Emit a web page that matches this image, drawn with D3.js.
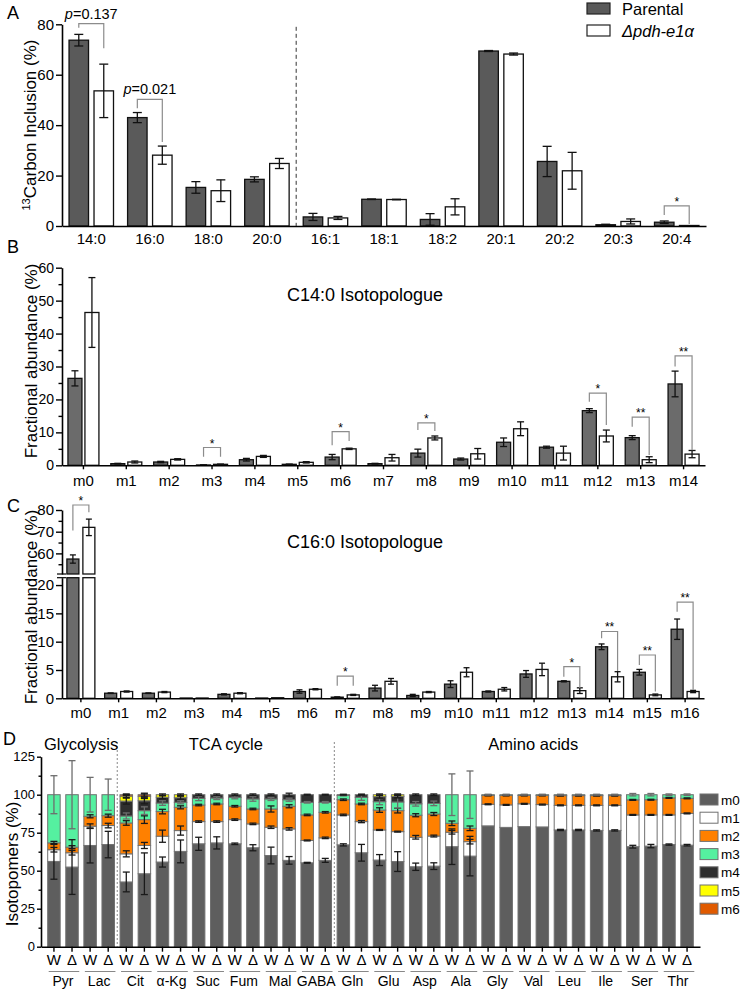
<!DOCTYPE html>
<html>
<head>
<meta charset="utf-8">
<script src="https://cdn.jsdelivr.net/npm/d3@7"></script>
<style>
  body { margin: 0; background: #fff; }
  svg { display: block; }
</style>
</head>
<body>
<div id="chart"></div>
<script>
// ---- Panel A: 13C inclusion per fatty acid ----
const aCats = ['14:0', '16:0', '18:0', '20:0', '16:1', '18:1', '18:2', '20:1', '20:2', '20:3', '20:4'];
const aParental = [73.7, 43.0, 15.3, 18.5, 3.6, 10.6, 2.6, 69.4, 25.6, 0.5, 1.5];
const aParentalSd = [2.3, 2.0, 2.3, 1.0, 1.4, 0.1, 2.3, 0.2, 6.0, 0.2, 0.5];
const aMutant = [53.6, 28.1, 14.0, 24.8, 3.2, 10.5, 7.6, 68.2, 21.9, 1.8, 0.2];
const aMutantSd = [10.6, 3.6, 4.3, 2.0, 0.6, 0.1, 3.2, 0.4, 7.3, 1.0, 0];
const aBrackets = [
  { cat: '14:0', label: 'p=0.137', level: 80.3, left: 78.6, right: 70.5 },
  { cat: '16:0', label: 'p=0.021', level: 50.2, left: 46.7, right: 33.3 },
  { cat: '20:4', label: '*', level: 8.0, left: 4.4, right: 0.8 }
];

// ---- Panel B: C14:0 isotopologues ----
const bCats = d3.range(15).map(i => 'm' + i);
const bParental = [26.4, 0.5, 1.0, 0.1, 1.7, 0.3, 2.5, 0.5, 3.7, 1.9, 7.0, 5.5, 16.6, 8.4, 24.7];
const bParentalSd = [2.3, 0.1, 0.2, 0.05, 0.4, 0.05, 0.8, 0.1, 1.2, 0.3, 1.3, 0.3, 0.6, 0.6, 3.9];
const bMutant = [46.4, 1.0, 1.8, 0.3, 2.7, 0.9, 5.0, 2.3, 8.3, 3.5, 11.1, 3.7, 8.9, 1.7, 3.4];
const bMutantSd = [10.6, 0.3, 0.2, 0.05, 0.3, 0.2, 0.2, 1.0, 0.6, 1.6, 2.1, 2.1, 1.8, 0.9, 1.1];
const bBrackets = [
  { cat: 'm3', label: '*', level: 5.4, left: 2.6, right: 2.6 },
  { cat: 'm6', label: '*', level: 10.2, left: 6.1, right: 7.4 },
  { cat: 'm8', label: '*', level: 12.9, left: 10.7, right: 10.4 },
  { cat: 'm12', label: '*', level: 21.9, left: 19.3, right: 12.2 },
  { cat: 'm13', label: '**', level: 14.6, left: 11.7, right: 3.1 },
  { cat: 'm14', label: '**', level: 33.2, left: 30.0, right: 4.6 }
];

// ---- Panel C: C16:0 isotopologues (broken axis) ----
const cCats = d3.range(17).map(i => 'm' + i);
const cParental = [57.4, 0.9, 0.9, 0.05, 0.7, 0.05, 1.2, 0.2, 1.8, 0.5, 2.5, 1.2, 4.3, 3.0, 9.1, 4.6, 12.2];
const cParentalSd = [1.9, 0.05, 0.05, 0, 0.1, 0, 0.3, 0.05, 0.5, 0.2, 0.6, 0.1, 0.6, 0.1, 0.5, 0.5, 1.8];
const cMutant = [72.0, 1.2, 1.1, 0.05, 0.9, 0.1, 1.6, 0.6, 3.0, 1.1, 4.6, 1.6, 5.1, 1.35, 3.8, 0.6, 1.2];
const cMutantSd = [3.8, 0.1, 0.1, 0, 0.1, 0, 0.1, 0.1, 0.5, 0.1, 0.8, 0.3, 1.1, 0.5, 0.9, 0.15, 0.2];
const cBrackets = [
  { cat: 'm0', label: '*', level: 82.3, left: 70.6, right: 79.0 },
  { cat: 'm7', label: '*', level: 3.9, left: 2.2, right: 2.2 },
  { cat: 'm13', label: '*', level: 5.6, left: 3.8, right: 1.8 },
  { cat: 'm14', label: '**', level: 11.8, left: 10.6, right: 4.8 },
  { cat: 'm15', label: '**', level: 7.65, left: 5.9, right: 1.2 },
  { cat: 'm16', label: '**', level: 17.0, left: 15.3, right: 1.5 }
];

// ---- Panel D: isotopomer distribution of central metabolites ----
const metabolites = ['Pyr', 'Lac', 'Cit', 'α-Kg', 'Suc', 'Fum', 'Mal', 'GABA', 'Gln',
  'Glu', 'Asp', 'Ala', 'Gly', 'Val', 'Leu', 'Ile', 'Ser', 'Thr'];
const strains = ['W', 'Δ'];
const isoKeys = ['m0', 'm1', 'm2', 'm3', 'm4', 'm5', 'm6'];
const isoColors = ['#5e5e5e', '#ffffff', '#ff8000', '#55f0a0', '#2e2e2e', '#ffff00', '#e05a00'];
const sections = [
  { label: 'Glycolysis', from: 0, to: 3 },
  { label: 'TCA cycle', from: 4, to: 15 },
  { label: 'Amino acids', from: 18, to: 35 }
];
// one value per bar: Pyr W, Pyr Δ, Lac W, Lac Δ, ...
const m0 = [56.1, 52.4, 66.6, 67.2, 42.6, 48.0, 55.7, 62.7, 67.7, 68.3, 67.7, 65.1, 60.0, 56.8, 55.2, 56.8, 67.0, 61.8,
  57.0, 56.0, 52.6, 53.0, 65.8, 59.6, 79.5, 78.5, 79.0, 78.8, 76.8, 76.8, 76.5, 76.5, 65.8, 66.2, 67.2, 66.8];
const m1 = [7.7, 9.4, 12.7, 12.5, 18.5, 18.6, 17.0, 13.7, 14.6, 14.0, 15.9, 15.7, 18.6, 20.7, 14.7, 14.8, 19.7, 20.5,
  19.8, 19.7, 19.4, 19.8, 9.5, 9.5, 14.2, 14.8, 15.0, 14.7, 16.2, 16.2, 16.5, 16.5, 20.9, 20.5, 19.5, 20.9];
const m2 = [4.5, 3.7, 6.5, 6.5, 20.3, 17.0, 16.2, 15.3, 10.9, 11.6, 8.8, 9.8, 12.0, 14.9, 16.8, 16.8, 10.0, 11.6,
  13.1, 13.8, 14.5, 14.5, 5.9, 8.8, 5.8, 6.2, 5.5, 6.0, 6.4, 6.4, 6.4, 6.4, 9.9, 10.0, 11.2, 9.9];
const m3 = [31.7, 34.5, 14.2, 13.8, 4.6, 5.9, 5.6, 3.3, 4.4, 3.9, 5.9, 6.6, 6.6, 4.3, 8.3, 6.6, 2.8, 4.4,
  5.5, 5.7, 7.5, 7.0, 18.8, 22.1, 0.5, 0.5, 0.5, 0.5, 0.6, 0.6, 0.6, 0.6, 3.4, 3.3, 2.1, 2.4];
const m4 = [0, 0, 0, 0, 9.8, 6.5, 3.8, 3.0, 2.4, 2.2, 1.7, 2.8, 2.8, 3.3, 5.0, 5.0, 0.5, 1.7,
  3.3, 3.7, 6.0, 5.7, 0, 0, 0, 0, 0, 0, 0, 0, 0, 0, 0, 0, 0, 0];
const m5 = [0, 0, 0, 0, 3.3, 3.0, 1.7, 2.0, 0, 0, 0, 0, 0, 0, 0, 0, 0, 0,
  1.3, 1.1, 0, 0, 0, 0, 0, 0, 0, 0, 0, 0, 0, 0, 0, 0, 0, 0];
const m6 = [0, 0, 0, 0, 0.9, 1.0, 0, 0, 0, 0, 0, 0, 0, 0, 0, 0, 0, 0,
  0, 0, 0, 0, 0, 0, 0, 0, 0, 0, 0, 0, 0, 0, 0, 0, 0, 0];
const sd0 = [11.7, 18.0, 11.5, 8.7, 6.5, 13.7, 3.3, 7.5, 4.3, 4.0, 0.5, 2.0, 5.5, 2.5, 0.3, 1.3, 0.7, 5.5,
  3.6, 6.5, 2.4, 2.2, 11.7, 13.0, 0, 0, 0, 0, 0.4, 0.4, 0.4, 0.4, 0.9, 1.1, 0.4, 0.5];
const sd1 = [1.5, 1.5, 1.5, 1.5, 2.0, 2.0, 4.0, 3.0, 0.5, 0.5, 0.5, 0.5, 0.8, 0.8, 0.3, 0.5, 0.5, 0.7,
  0.3, 0.3, 1.2, 0.6, 1.2, 1.5, 0.3, 0.3, 0.3, 0.3, 0.3, 0.3, 0.3, 0.3, 0.3, 0.3, 0.3, 0.3];
const sd2 = [1.0, 1.0, 1.0, 1.0, 1.5, 2.5, 1.5, 1.0, 0.5, 0.5, 0.5, 0.5, 2.0, 1.0, 0.5, 0.5, 0.5, 0.5,
  1.5, 1.5, 1.0, 1.0, 1.5, 1.5, 0.3, 0.3, 0.3, 0.3, 0.3, 0.3, 0.3, 0.3, 0.3, 0.3, 0.3, 0.3];
const sd3 = [12.5, 22.4, 11.4, 10.3, 2.0, 2.5, 1.5, 1.0, 1.5, 1.0, 1.0, 1.5, 1.0, 1.0, 0.5, 0.5, 0.3, 2.0,
  2.0, 4.0, 1.5, 1.5, 13.7, 15.6, 0.3, 0.3, 0.3, 0.3, 0.3, 0.3, 0.3, 0.3, 0.8, 0.8, 0.5, 0.5];
const sd4 = [0, 0, 0, 0, 2.0, 2.0, 1.0, 1.0, 0.5, 0.5, 0.5, 0.5, 0.5, 1.0, 0.3, 0.3, 0.3, 0.3,
  1.0, 1.0, 0.5, 0.5, 0, 0, 0, 0, 0, 0, 0, 0, 0, 0, 0, 0, 0, 0];
const sd5 = [0, 0, 0, 0, 1.0, 1.5, 0.5, 0.5, 0, 0, 0, 0, 0, 0, 0, 0, 0, 0,
  0.5, 0.5, 0, 0, 0, 0, 0, 0, 0, 0, 0, 0, 0, 0, 0, 0, 0, 0];
const sd6 = [0, 0, 0, 0, 0.5, 1.0, 0, 0, 0, 0, 0, 0, 0, 0, 0, 0, 0, 0,
  0, 0, 0, 0, 0, 0, 0, 0, 0, 0, 0, 0, 0, 0, 0, 0, 0, 0];

const FONT = '"Liberation Sans", Arial, Helvetica, sans-serif';
const PARENTAL_A = '#5a5a5a';
const PARENTAL_BC = '#6b6b6b';
const BRACKET = '#8c8c8c';

const svg = d3.select('#chart').append('svg')
  .attr('width', 741)
  .attr('height', 991)
  .style('font-family', FONT);

function styleAxis(sel, fontSize) {
  sel.attr('font-family', null).attr('font-size', null);
  sel.select('.domain').attr('stroke', '#000').attr('stroke-width', 1.6);
  sel.selectAll('.tick line').attr('stroke', '#000').attr('stroke-width', 1.4);
  sel.selectAll('.tick text').attr('fill', '#000').style('font-size', fontSize + 'px');
}

function addText(x, y, txt, size, opts = {}) {
  return svg.append('text')
    .attr('x', x).attr('y', y)
    .attr('text-anchor', opts.anchor || 'start')
    .style('font-size', size + 'px')
    .style('font-style', opts.italic ? 'italic' : null)
    .text(txt);
}

function yLabel(x, yc, txt, size) {
  return svg.append('text')
    .attr('transform', `translate(${x},${yc}) rotate(-90)`)
    .attr('text-anchor', 'middle')
    .style('font-size', size + 'px')
    .text(txt);
}

// Grouped Parental / mutant bars with error bars and significance brackets
function groupedPanel(cfg) {
  const g = svg.append('g');
  const x = d3.scaleBand().domain(cfg.cats).range(cfg.xRange);
  const xi = d3.scaleBand().domain(['P', 'W']).range([0, x.bandwidth()])
    .paddingInner(cfg.padInner).paddingOuter(cfg.padOuter);
  const cx = (cat, key) => x(cat) + xi(key) + xi.bandwidth() / 2;

  const rows = cfg.cats.flatMap((cat, i) => [
    { cat, key: 'P', v: cfg.parental[i], sd: cfg.parentalSd[i] },
    { cat, key: 'W', v: cfg.mutant[i], sd: cfg.mutantSd[i] }
  ]);
  const pieces = rows.flatMap(d => cfg.spans(d.v).map(s => ({ ...d, top: s[0], bottom: s[1] })));

  g.selectAll('.bar').data(pieces).join('rect')
    .attr('class', 'bar')
    .attr('x', d => x(d.cat) + xi(d.key))
    .attr('y', d => d.top)
    .attr('width', xi.bandwidth())
    .attr('height', d => Math.max(0.3, d.bottom - d.top))
    .attr('fill', d => d.key === 'P' ? cfg.pFill : '#fff')
    .attr('stroke', '#111')
    .attr('stroke-width', 1.3);

  // error bars
  const cap = cfg.cap / 2;
  const eg = g.selectAll('.err').data(rows.filter(d => d.sd > 0)).join('g')
    .attr('class', 'err')
    .attr('stroke', '#111')
    .attr('stroke-width', 1.3);
  eg.append('line')
    .attr('x1', d => cx(d.cat, d.key)).attr('x2', d => cx(d.cat, d.key))
    .attr('y1', d => cfg.y(d.v + d.sd)).attr('y2', d => cfg.y(Math.max(0, d.v - d.sd)));
  eg.append('line')
    .attr('x1', d => cx(d.cat, d.key) - cap).attr('x2', d => cx(d.cat, d.key) + cap)
    .attr('y1', d => cfg.y(d.v + d.sd)).attr('y2', d => cfg.y(d.v + d.sd));
  eg.append('line')
    .attr('x1', d => cx(d.cat, d.key) - cap).attr('x2', d => cx(d.cat, d.key) + cap)
    .attr('y1', d => cfg.y(Math.max(0, d.v - d.sd))).attr('y2', d => cfg.y(Math.max(0, d.v - d.sd)));

  // significance brackets
  const bg = g.selectAll('.bracket').data(cfg.brackets).join('g').attr('class', 'bracket');
  bg.append('path')
    .attr('d', b => `M${cx(b.cat, 'P')},${cfg.y(b.left)}V${cfg.y(b.level)}H${cx(b.cat, 'W')}V${cfg.y(b.right)}`)
    .attr('fill', 'none')
    .attr('stroke', BRACKET)
    .attr('stroke-width', 1.2);
  const bt = bg.append('text')
    .attr('x', b => (cx(b.cat, 'P') + cx(b.cat, 'W')) / 2)
    .attr('y', b => cfg.y(b.level) - (b.label.startsWith('p') ? 5 : 0))
    .attr('text-anchor', 'middle')
    .style('font-size', b => b.label.startsWith('p') ? '14.5px' : '12px');
  bt.each(function (b) {
    const t = d3.select(this);
    if (b.label.startsWith('p')) {
      t.append('tspan').style('font-style', 'italic').text('p');
      t.append('tspan').text(b.label.slice(1));
    } else {
      t.text(b.label);
    }
  });

  // x axis
  const xAxis = g.append('g')
    .attr('transform', `translate(0,${cfg.y(0)})`)
    .call(d3.axisBottom(x).tickSize(cfg.xTick).tickSizeOuter(0).tickPadding(cfg.xPad));
  styleAxis(xAxis, cfg.xFont);

  // y axes (major + minor ticks)
  cfg.yAxes.forEach(a => {
    const ya = g.append('g')
      .attr('transform', `translate(${cfg.xRange[0]},0)`)
      .call(d3.axisLeft(a.scale).tickValues(a.major).tickSize(6).tickSizeOuter(0).tickPadding(2));
    styleAxis(ya, cfg.yFont);
    if (a.minor) {
      const ym = g.append('g')
        .attr('transform', `translate(${cfg.xRange[0]},0)`)
        .call(d3.axisLeft(a.scale).tickValues(a.minor).tickSize(3.5).tickFormat(''));
      ym.select('.domain').remove();
      styleAxis(ym, cfg.yFont);
    }
  });
  return { x, xi };
}

// ---------------- Panel A ----------------
const yA = d3.scaleLinear().domain([0, 80]).range([226, 24.3]);
const panelA = groupedPanel({
  cats: aCats, parental: aParental, parentalSd: aParentalSd, mutant: aMutant, mutantSd: aMutantSd,
  brackets: aBrackets, xRange: [62, 706], padInner: 0.22, padOuter: 0.282,
  y: yA, spans: v => [[yA(v), yA(0)]], pFill: PARENTAL_A, cap: 9,
  xTick: 0, xPad: 7, xFont: 15, yFont: 15,
  yAxes: [{ scale: yA, major: [0, 20, 40, 60, 80] }]
});
// dashed separator between saturated and unsaturated acids
svg.append('line')
  .attr('x1', panelA.x('16:1')).attr('x2', panelA.x('16:1'))
  .attr('y1', yA(79)).attr('y2', yA(0))
  .attr('stroke', '#333').attr('stroke-width', 1).attr('stroke-dasharray', '4,3');

const ylA = svg.append('text')
  .attr('transform', 'translate(36,125) rotate(-90)')
  .attr('text-anchor', 'middle')
  .style('font-size', '17px');
ylA.append('tspan').style('font-size', '11px').attr('dy', -6).text('13');
ylA.append('tspan').attr('dy', 6).text('Carbon Inclusion (%)');

// legend for A
const legendA = [
  { label: 'Parental', fill: PARENTAL_A, italic: false },
  { label: 'Δpdh-e1α', fill: '#fff', italic: true }
];
legendA.forEach((d, i) => {
  svg.append('rect')
    .attr('x', 587).attr('y', 3 + i * 22)
    .attr('width', 23).attr('height', 11)
    .attr('fill', d.fill).attr('stroke', '#222').attr('stroke-width', 1.2);
  addText(622, 15 + i * 22, d.label, 16.5, { italic: d.italic });
});
addText(7, 19, 'A', 18);

// ---------------- Panel B ----------------
const yB = d3.scaleLinear().domain([0, 60]).range([465.3, 267.7]);
groupedPanel({
  cats: bCats, parental: bParental, parentalSd: bParentalSd, mutant: bMutant, mutantSd: bMutantSd,
  brackets: bBrackets, xRange: [62, 705], padInner: 0.176, padOuter: 0.35,
  y: yB, spans: v => [[yB(v), yB(0)]], pFill: PARENTAL_BC, cap: 7,
  xTick: 4, xPad: 6, xFont: 15, yFont: 14,
  yAxes: [{ scale: yB, major: d3.range(0, 61, 10), minor: d3.range(5, 60, 10) }]
});
yLabel(37, 361, 'Fractional abundance (%)', 17);
addText(365, 301, 'C14:0 Isotopologue', 18, { anchor: 'middle' });
addText(7, 253, 'B', 18);

// ---------------- Panel C (broken y axis) ----------------
const cLow = d3.scaleLinear().domain([0, 21.3]).range([698.3, 577.7]);
const cHigh = d3.scaleLinear().domain([50.5, 80]).range([574, 510]);
const yC = v => v > 21.3 ? cHigh(v) : cLow(v);
const spansC = v => v > 21.3
  ? [[cHigh(v), cHigh(50.5)], [cLow(21.3), cLow(0)]]
  : [[cLow(v), cLow(0)]];
groupedPanel({
  cats: cCats, parental: cParental, parentalSd: cParentalSd, mutant: cMutant, mutantSd: cMutantSd,
  brackets: cBrackets, xRange: [62, 704], padInner: 0.25, padOuter: 0.306,
  y: yC, spans: spansC, pFill: PARENTAL_BC, cap: 6,
  xTick: 4, xPad: 5, xFont: 15, yFont: 15,
  yAxes: [
    { scale: cLow, major: [0, 5, 10, 15, 20] },
    { scale: cHigh, major: [60, 70, 80], minor: [55, 65, 75] }
  ]
});
// axis break marks
[cHigh(50.5), cLow(21.3)].forEach(yy => {
  svg.append('line').attr('x1', 57).attr('x2', 66).attr('y1', yy).attr('y2', yy)
    .attr('stroke', '#000').attr('stroke-width', 1.2);
});
yLabel(37, 607, 'Fractional abundance (%)', 17);
addText(365, 548, 'C16:0 Isotopologue', 18, { anchor: 'middle' });
addText(7, 512, 'C', 18);

// ---------------- Panel D: stacked isotopomers ----------------
const isoValues = [m0, m1, m2, m3, m4, m5, m6];
const isoSd = [sd0, sd1, sd2, sd3, sd4, sd5, sd6];
const barIds = d3.range(metabolites.length * 2);
const dRows = barIds.map(i => {
  const r = { id: i, met: metabolites[Math.floor(i / 2)], strain: strains[i % 2] };
  isoKeys.forEach((k, j) => { r[k] = isoValues[j][i]; });
  return r;
});
const stackD = d3.stack().keys(isoKeys)(dRows);

const xD = d3.scaleBand().domain(barIds).range([41, 700]).paddingInner(0.31).paddingOuter(0.37);
const yD = d3.scaleLinear().domain([0, 125]).range([946.7, 756.7]);
const colorD = d3.scaleOrdinal().domain(isoKeys).range(isoColors);
const gD = svg.append('g');

gD.selectAll('.layer').data(stackD).join('g')
  .attr('class', 'layer')
  .attr('fill', s => colorD(s.key))
  .selectAll('rect')
  .data(s => s.filter(p => p[1] - p[0] > 0))
  .join('rect')
  .attr('x', p => xD(p.data.id))
  .attr('y', p => yD(p[1]))
  .attr('width', xD.bandwidth())
  .attr('height', p => yD(p[0]) - yD(p[1]))
  .attr('stroke', '#707070')
  .attr('stroke-width', 1);

// error bars on each segment top
const errD = stackD.flatMap((s, j) => s
  .filter(p => p[1] - p[0] > 0 && isoSd[j][p.data.id] > 0)
  .map(p => ({ id: p.data.id, top: p[1], sd: isoSd[j][p.data.id], key: s.key })));
const egD = gD.selectAll('.errD').data(errD).join('g')
  .attr('class', 'errD')
  .attr('stroke', d => d.key === 'm3' ? '#6d6d6d' : '#1a1a1a')
  .attr('stroke-width', 1.3);
const cxD = id => xD(id) + xD.bandwidth() / 2;
egD.append('line')
  .attr('x1', d => cxD(d.id)).attr('x2', d => cxD(d.id))
  .attr('y1', d => yD(d.top + d.sd)).attr('y2', d => yD(d.top - d.sd));
[1, -1].forEach(sgn => {
  egD.append('line')
    .attr('x1', d => cxD(d.id) - 3.5).attr('x2', d => cxD(d.id) + 3.5)
    .attr('y1', d => yD(d.top + sgn * d.sd)).attr('y2', d => yD(d.top + sgn * d.sd));
});

// section separators and headers
[4, 16].forEach(i => {
  const xs = (xD(i - 1) + xD.bandwidth() + xD(i)) / 2;
  gD.append('line')
    .attr('x1', xs).attr('x2', xs).attr('y1', 742).attr('y2', yD(0))
    .attr('stroke', '#888').attr('stroke-width', 1).attr('stroke-dasharray', '2,2');
});
sections.forEach(s => {
  const xc = (xD(s.from) + xD(s.to) + xD.bandwidth()) / 2;
  addText(xc, 750, s.label, 16.5, { anchor: 'middle' });
});

// axes
const xAxisD = gD.append('g')
  .attr('transform', `translate(0,${yD(0)})`)
  .call(d3.axisBottom(xD).tickSize(5).tickSizeOuter(0).tickPadding(3)
    .tickFormat(i => strains[i % 2]));
styleAxis(xAxisD, 15);
const yAxisD = gD.append('g')
  .attr('transform', 'translate(41,0)')
  .call(d3.axisLeft(yD).tickValues(d3.range(0, 126, 25)).tickSize(4).tickSizeOuter(0).tickPadding(2));
styleAxis(yAxisD, 13);
const yMinorD = gD.append('g')
  .attr('transform', 'translate(41,0)')
  .call(d3.axisLeft(yD).tickValues(d3.range(12.5, 125, 25)).tickSize(2.5).tickFormat(''));
yMinorD.select('.domain').remove();
styleAxis(yMinorD, 13);

// metabolite names with underline
metabolites.forEach((m, k) => {
  const a = xD(2 * k), b = xD(2 * k + 1) + xD.bandwidth();
  gD.append('line')
    .attr('x1', a + 1).attr('x2', b + 1).attr('y1', 971.5).attr('y2', 971.5)
    .attr('stroke', '#888').attr('stroke-width', 1);
  addText((a + b) / 2, 986, m, 14, { anchor: 'middle' });
});

// legend for D
isoKeys.forEach((k, i) => {
  svg.append('rect')
    .attr('x', 700).attr('y', 794 + i * 18.2)
    .attr('width', 18).attr('height', 11)
    .attr('fill', colorD(k)).attr('stroke', '#707070').attr('stroke-width', 1);
  addText(721, 804.5 + i * 18.2, k, 13.5);
});

yLabel(18, 864, 'Isotopomers (%)', 17);
addText(3, 745, 'D', 18);
</script>
</body>
</html>
